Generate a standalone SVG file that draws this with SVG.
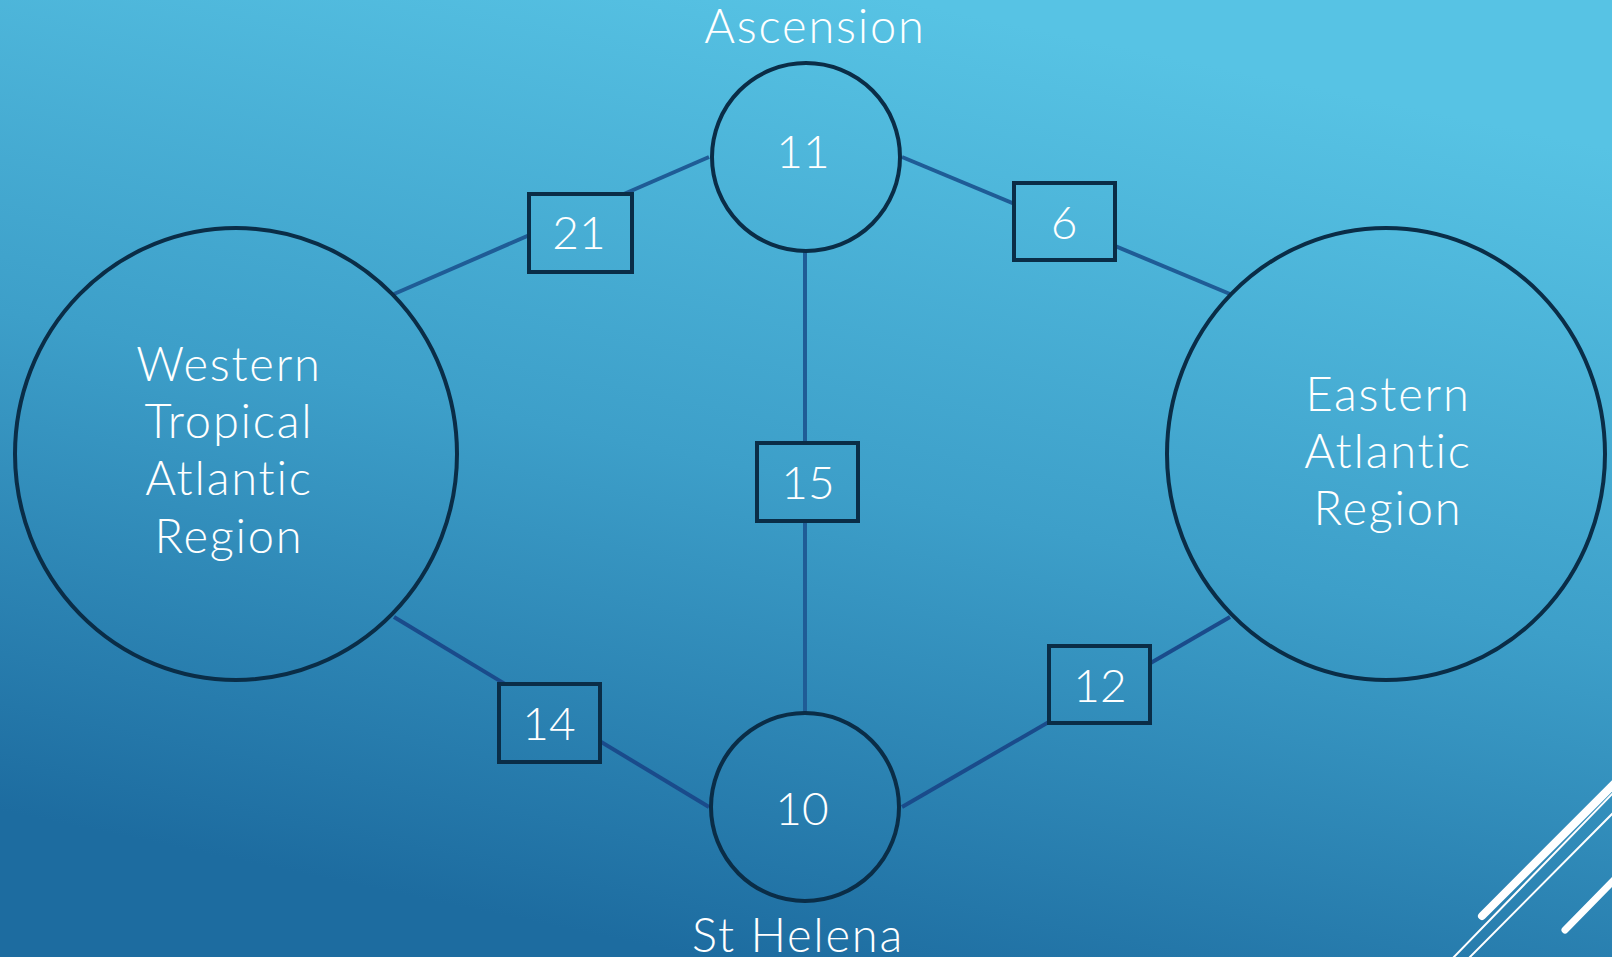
<svg xmlns="http://www.w3.org/2000/svg" width="1612" height="957" viewBox="0 0 1612 957">
<defs>
<linearGradient id="bg" gradientUnits="userSpaceOnUse" x1="900" y1="0" x2="700" y2="957">
<stop offset="0" stop-color="#57c3e4"/>
<stop offset="0.5" stop-color="#3d9fc9"/>
<stop offset="1" stop-color="#1d6ca0"/>
</linearGradient>
<style>
.node{fill:none;stroke:#0a2d47;stroke-width:4}
.box{fill:url(#bg);stroke:#0a2d47;stroke-width:4}
.edge{stroke:#1f5c96;stroke-width:4;fill:none}
.edgeD{stroke:#1a4b8b;stroke-width:4;fill:none}
.t{fill:#ffffff;font-family:Lato,"Open Sans","Liberation Sans",sans-serif;font-weight:300;text-anchor:middle;font-variant-ligatures:none}
.big{font-size:47px;letter-spacing:1.8px}
.num{font-size:46px}
.deco{stroke:#ffffff;fill:none;stroke-linecap:round}
</style>
</defs>
<rect x="0" y="0" width="1612" height="957" fill="url(#bg)"/>
<g id="decoration">
<line class="deco" x1="1482" y1="916" x2="1616" y2="782" stroke-width="8"/>
<line class="deco" x1="1451" y1="960" x2="1616" y2="790" stroke-width="2"/>
<line class="deco" x1="1467" y1="960" x2="1616" y2="810" stroke-width="2"/>
<line class="deco" x1="1565" y1="930" x2="1616" y2="878" stroke-width="7"/>
</g>
<g id="connectors">
<line class="edge" x1="709" y1="157" x2="394" y2="294"/>
<line class="edge" x1="902" y1="157" x2="1230" y2="294"/>
<line class="edge" x1="805" y1="251" x2="805" y2="714"/>
<line class="edgeD" x1="394" y1="617" x2="709" y2="807"/>
<line class="edgeD" x1="902" y1="807" x2="1230" y2="617"/>
</g>
<g id="western">
<ellipse class="node" cx="236" cy="454" rx="221" ry="226"/>
<text class="t big" x="229" y="381">Western</text>
<text class="t big" x="229" y="438">Tropical</text>
<text class="t big" x="229" y="495">Atlantic</text>
<text class="t big" x="229" y="553">Region</text>
</g>
<g id="eastern">
<ellipse class="node" cx="1386" cy="454" rx="219" ry="226"/>
<text class="t big" x="1388" y="411">Eastern</text>
<text class="t big" x="1388" y="468">Atlantic</text>
<text class="t big" x="1388" y="525">Region</text>
</g>
<g id="ascension">
<circle class="node" cx="806" cy="157" r="94"/>
<text class="t big" x="815" y="43">Ascension</text>
<text class="t num" x="803" y="168">11</text>
</g>
<g id="sthelena">
<circle class="node" cx="805" cy="807" r="94"/>
<text class="t num" x="802" y="825">10</text>
<text class="t big" x="798" y="952">St Helena</text>
</g>
<g id="box21">
<rect class="box" x="529" y="194" width="103" height="78"/>
<text class="t num" x="579" y="249">21</text>
</g>
<g id="box6">
<rect class="box" x="1014" y="183" width="101" height="77"/>
<text class="t num" x="1064" y="239">6</text>
</g>
<g id="box15">
<rect class="box" x="757" y="443" width="101" height="78"/>
<text class="t num" x="808" y="499">15</text>
</g>
<g id="box14">
<rect class="box" x="499" y="684" width="101" height="78"/>
<text class="t num" x="549" y="740">14</text>
</g>
<g id="box12">
<rect class="box" x="1049" y="646" width="101" height="77"/>
<text class="t num" x="1100" y="702">12</text>
</g>
</svg>
